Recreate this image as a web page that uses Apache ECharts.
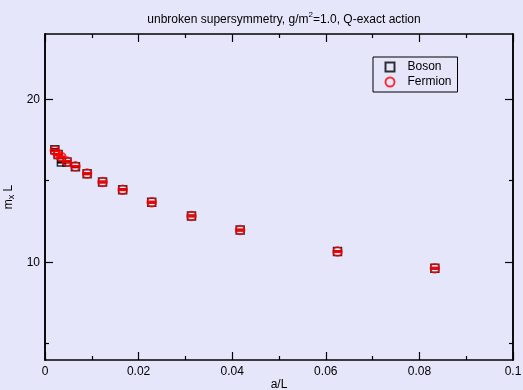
<!DOCTYPE html>
<html><head><meta charset="utf-8">
<script src="https://cdn.jsdelivr.net/npm/echarts@6/dist/echarts.min.js"></script>
<style>html,body{margin:0;padding:0;background:#e6e6fa}#c{width:523px;height:390px}</style>
</head><body><div id="c"></div>
<script>
var aOverL   = [0.0021, 0.0028, 0.0035, 0.0047, 0.0065, 0.0090, 0.0123, 0.0166, 0.0228, 0.0313, 0.0417, 0.0625, 0.0833];
var boson    = [16.90, 16.60, 16.15, 16.15, 15.85, 15.42, 14.92, 14.45, 13.68, 12.84, 11.97, 10.65, 9.63];
var fermion  = [16.85, 16.60, 16.45, 16.18, 15.88, 15.44, 14.92, 14.45, 13.68, 12.84, 11.97, 10.65, 9.63];
var bosonErr   = [0.05, 0.05, 0.05, 0.05, 0.04, 0.04, 0.04, 0.04, 0.04, 0.04, 0.04, 0.04, 0.04];
var fermionErr = [0.05, 0.05, 0.05, 0.05, 0.04, 0.04, 0.04, 0.04, 0.04, 0.04, 0.04, 0.04, 0.04];
var xTicks = [0, 0.02, 0.04, 0.06, 0.08, 0.1];
var yMajor = [10, 20];
var yMinor = [5, 15];

var font = 'Liberation Sans, Arial, sans-serif';
function pts(ys){ return aOverL.map(function(x,i){ return [x, ys[i]]; }); }
function errPts(ys, es){ return aOverL.map(function(x,i){ return [x, ys[i], es[i]]; }); }
function errRender(color){
  return function(params, api){
    var x = api.value(0), y = api.value(1), e = api.value(2);
    var hi = api.coord([x, y + e]), lo = api.coord([x, y - e]);
    var w = 4;
    var st = {stroke: color, lineWidth: 1.5};
    return {type:'group', children:[
      {type:'line', shape:{x1:hi[0], y1:hi[1], x2:lo[0], y2:lo[1]}, style:st},
      {type:'line', shape:{x1:hi[0]-w, y1:hi[1], x2:hi[0]+w, y2:hi[1]}, style:st},
      {type:'line', shape:{x1:lo[0]-w, y1:lo[1], x2:lo[0]+w, y2:lo[1]}, style:st}
    ]};
  };
}
function xAx(pos, labels){
  return {type:'value', position:pos, min:0, max:0.1, interval:0.02,
    axisLine:{show:true, lineStyle:{color:'#000', width:1.5}}, splitLine:{show:false},
    axisTick:{show:true, inside:true, length:8, lineStyle:{color:'#000', width:1.2}},
    minorTick:{show:true, splitNumber:2, length:4, lineStyle:{color:'#000', width:1.2}},
    axisLabel:{show:labels, color:'#000', fontFamily:font, fontSize:12, margin:6,
      customValues: xTicks,
      formatter:function(v){ return String(+v.toFixed(2)); }},
    name: labels ? 'a/L' : '', nameLocation:'middle', nameGap:19, nameMoveOverlap:false,
    nameTextStyle:{color:'#000', fontFamily:font, fontSize:12}
  };
}
function yAx(pos, vals, len, labels, name){
  var line = {show:true, lineStyle:{color:'#000', width:1.5}};
  if (pos === 'right') line.onZero = false;
  return {type:'value', position:pos, min:4, max:24,
    axisLine:line, splitLine:{show:false},
    axisTick:{show:true, inside:true, length:len, customValues:vals, lineStyle:{color:'#000', width:1.2}},
    axisLabel:{show:labels, customValues:vals, color:'#000', fontFamily:font, fontSize:12, margin:5},
    name: name || '', nameLocation:'middle', nameGap:28, nameRotate:90,
    nameTextStyle:{color:'#000', fontFamily:font, fontSize:12,
      rich:{s:{fontSize:9, fontFamily:font, color:'#000', verticalAlign:'bottom', padding:[6,0,0,0]}}}
  };
}
var chart = echarts.init(document.getElementById('c'), null, {renderer:'canvas'});
chart.setOption({
  backgroundColor:'#e6e6fa',
  animation:false,
  title:{text:'unbroken supersymmetry, g/m{s|2}=1.0, Q-exact action', left:279, textAlign:'center', top:6,
    textStyle:{color:'#000', fontFamily:font, fontSize:12, fontWeight:'normal',
      rich:{s:{fontSize:8, fontFamily:font, color:'#000', padding:[0,0,10,0]}}}},
  grid:{left:45, right:10, top:34, bottom:30, containLabel:false, outerBoundsMode:'none'},
  legend:{orient:'vertical', left:373, top:57, data:['Boson','Fermion'],
    backgroundColor:'#e6e6fa', borderColor:'#000', borderWidth:1, borderRadius:0,
    padding:[3,6,3,10], itemWidth:9, itemHeight:9, itemGap:1,
    textStyle:{color:'#000', fontFamily:font, fontSize:12, lineHeight:14, padding:[0,0,0,8]}},
  xAxis:[xAx('bottom', true), xAx('top', false)],
  yAxis:[yAx('left', yMajor, 8, true, 'm{s|x} L'), yAx('right', yMajor, 8, false),
         yAx('left', yMinor, 4, false), yAx('right', yMinor, 4, false)],
  series:[
    {type:'custom', name:'BosonErr', xAxisIndex:0, yAxisIndex:0, renderItem:errRender('#000'), data:errPts(boson, bosonErr), z:2},
    {type:'scatter', name:'Boson', xAxisIndex:0, yAxisIndex:0, symbol:'rect', symbolSize:8,
      itemStyle:{color:'none', borderColor:'#000', borderWidth:1.5}, data:pts(boson), z:3},
    {type:'custom', name:'FermionErr', xAxisIndex:0, yAxisIndex:0, renderItem:errRender('#ff0000'), data:errPts(fermion, fermionErr), z:4},
    {type:'scatter', name:'Fermion', xAxisIndex:0, yAxisIndex:0, symbol:'circle', symbolSize:9,
      itemStyle:{color:'none', borderColor:'#ff0000', borderWidth:1.5}, data:pts(fermion), z:5}
  ]
});
</script></body></html>
